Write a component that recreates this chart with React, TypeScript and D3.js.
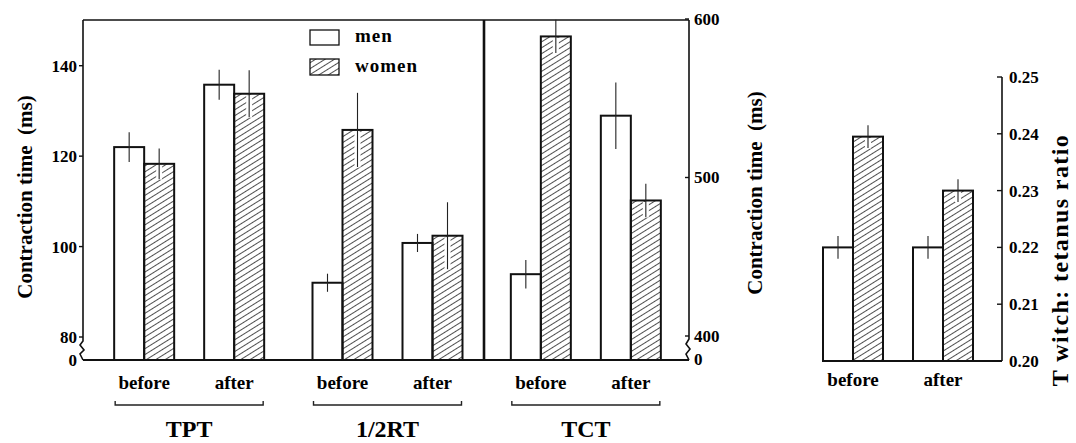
import React from "react";
import * as d3 from "d3";

// values (means, +/- half error bar)
const groups = ["TPT", "1/2RT", "TCT"];
const conditions = ["before", "after"];
const sexes = ["men", "women"];

const tptMen = [122, 135.8];
const tptMenErr = [3.3, 3.3];
const tptWomen = [118.3, 133.8];
const tptWomenErr = [3.4, 5.2];

const rtMen = [92, 100.8];
const rtMenErr = [2, 2];
const rtWomen = [125.8, 102.4];
const rtWomenErr = [8.2, 7.4];

const tctMen = [439, 539];
const tctMenErr = [9, 21];
const tctWomen = [589, 485.5];
const tctWomenErr = [10.5, 10.5];

const ratioMen = [0.22, 0.22];
const ratioMenErr = [0.002, 0.002];
const ratioWomen = [0.2395, 0.23];
const ratioWomenErr = [0.002, 0.002];

const leftTicks = [80, 100, 120, 140];
const tctTicks = [400, 500, 600];
const ratioTicks = [0.2, 0.21, 0.22, 0.23, 0.24, 0.25];

const FONT = "'Liberation Serif', 'Times New Roman', serif";

const W = 1076;
const H = 443;
const base = 360;

const App = () => {
  const yTime = d3.scaleLinear().domain([80, 150]).range([337, 20.5]);
  const yTCT = d3.scaleLinear().domain([400, 600]).range([336, 19]);
  const yRatio = d3.scaleLinear().domain([0.2, 0.25]).range([361, 77]);

  const xGroup = d3.scaleBand().domain(groups).range([90, 685]);
  const xCond = d3.scalePoint().domain(conditions).range([-45, 45]);
  const xSex = d3.scaleBand().domain(sexes).range([-30, 30]);
  const xRatio = d3.scalePoint().domain(conditions).range([853, 943]);

  const groupCenter = (g: string) => (xGroup(g) as number) + xGroup.bandwidth() / 2;

  type Bar = { cx: number; sex: string; v: number; e: number; y: d3.ScaleLinear<number, number>; b: number };
  const bars: Bar[] = [];
  const series: [string, number[], number[], number[], number[], d3.ScaleLinear<number, number>][] = [
    ["TPT", tptMen, tptMenErr, tptWomen, tptWomenErr, yTime],
    ["1/2RT", rtMen, rtMenErr, rtWomen, rtWomenErr, yTime],
    ["TCT", tctMen, tctMenErr, tctWomen, tctWomenErr, yTCT],
  ];
  series.forEach(([g, m, me, w, we, y]) => {
    conditions.forEach((c, i) => {
      const cx = groupCenter(g) + (xCond(c) as number);
      bars.push({ cx, sex: "men", v: m[i], e: me[i], y, b: base });
      bars.push({ cx, sex: "women", v: w[i], e: we[i], y, b: base });
    });
  });
  conditions.forEach((c, i) => {
    const cx = xRatio(c) as number;
    bars.push({ cx, sex: "men", v: ratioMen[i], e: ratioMenErr[i], y: yRatio, b: 361 });
    bars.push({ cx, sex: "women", v: ratioWomen[i], e: ratioWomenErr[i], y: yRatio, b: 361 });
  });

  const leftX = 83;
  const tctX = 689;
  const divX = 484;
  const ratioX = 1002;

  return (
    <svg
      width={W}
      height={H}
      style={{ position: "absolute", left: 0, top: 0, background: "#fff" }}
      fontFamily={FONT}
      fontWeight="bold"
    >
      <defs>
        <pattern id="hatch" width="5" height="5" patternUnits="userSpaceOnUse" patternTransform="rotate(-32)">
          <line x1="0" y1="2.5" x2="5" y2="2.5" stroke="#222" strokeWidth="0.8" />
        </pattern>
      </defs>

      {/* frame of the left panel */}
      <line x1={leftX} y1={20} x2={tctX} y2={20} stroke="#111" strokeWidth={1.6} />
      <line x1={leftX} y1={base} x2={tctX} y2={base} stroke="#111" strokeWidth={2} />
      <line x1={divX} y1={20} x2={divX} y2={base} stroke="#111" strokeWidth={2.6} />

      {/* left axis with break */}
      <path
        d={`M${leftX},20 V${yTime(80) + 4} L${leftX - 3},${yTime(80) + 8} L${leftX + 1},${yTime(80) + 13} L${leftX - 3},${yTime(80) + 17} L${leftX},${base}`}
        fill="none"
        stroke="#111"
        strokeWidth={1.6}
      />
      {leftTicks.map((t) => (
        <g key={t}>
          <line x1={leftX - 4} x2={leftX} y1={yTime(t)} y2={yTime(t)} stroke="#111" strokeWidth={1.4} />
          <text x={leftX - 6} y={yTime(t)} dy="0.35em" textAnchor="end" fontSize={17}>
            {t}
          </text>
        </g>
      ))}
      <text x={leftX - 6} y={base} dy="0.35em" textAnchor="end" fontSize={17}>
        0
      </text>
      <text transform={`translate(32,197) rotate(-90)`} textAnchor="middle" fontSize={21} xmlSpace="preserve">
        {"Contraction time  (ms)"}
      </text>

      {/* TCT axis on the right with break */}
      <path
        d={`M${tctX},20 V${yTCT(400) + 3} L${tctX - 3},${yTCT(400) + 8} L${tctX + 1},${yTCT(400) + 13} L${tctX - 3},${yTCT(400) + 18} L${tctX},${base}`}
        fill="none"
        stroke="#111"
        strokeWidth={1.6}
      />
      {tctTicks.map((t) => (
        <g key={t}>
          <line x1={tctX - 4} x2={tctX} y1={yTCT(t)} y2={yTCT(t)} stroke="#111" strokeWidth={1.4} />
          <text x={tctX + 5} y={yTCT(t)} dy="0.35em" textAnchor="start" fontSize={17}>
            {t}
          </text>
        </g>
      ))}
      <text x={tctX + 5} y={base - 1} dy="0.35em" textAnchor="start" fontSize={17}>
        0
      </text>
      <text transform={`translate(762,193) rotate(-90)`} textAnchor="middle" fontSize={21} xmlSpace="preserve">
        {"Contraction time  (ms)"}
      </text>

      {/* ratio panel axis */}
      <line x1={822} x2={ratioX} y1={361} y2={361} stroke="#111" strokeWidth={2} />
      <line x1={ratioX} x2={ratioX} y1={yRatio(0.25)} y2={361} stroke="#111" strokeWidth={1.6} />
      {ratioTicks.map((t) => (
        <g key={t}>
          <line x1={ratioX - 5} x2={ratioX} y1={yRatio(t)} y2={yRatio(t)} stroke="#111" strokeWidth={1.4} />
          <text x={ratioX + 7} y={yRatio(t)} dy="0.35em" textAnchor="start" fontSize={17}>
            {d3.format(".2f")(t)}
          </text>
        </g>
      ))}
      <text
        transform={`translate(1068,260) rotate(-90)`}
        textAnchor="middle"
        fontSize={24}
        letterSpacing={1.4}
        xmlSpace="preserve"
      >
        {"T witch: tetanus ratio"}
      </text>

      {/* bars */}
      {bars.map((d, i) => {
        const x0 = d.cx + (xSex(d.sex) as number);
        const w = xSex.bandwidth();
        const top = d.y(d.v);
        const eTop = d.y(d.v + d.e);
        const eBot = d.y(d.v - d.e);
        const mid = x0 + w / 2;
        return (
          <g key={i}>
            <rect
              x={x0}
              y={top}
              width={w}
              height={d.b - top}
              fill={d.sex === "women" ? "url(#hatch)" : "#fff"}
              stroke="#111"
              strokeWidth={2}
            />
            {d.sex === "women" && <rect x={mid - 3} y={top + 1.5} width={6} height={eBot - top - 1} fill="#fff" />}
            <line x1={mid} x2={mid} y1={eTop} y2={eBot} stroke="#222" strokeWidth={1.1} />
          </g>
        );
      })}

      {/* legend */}
      <rect x={310} y={30} width={29} height={15} fill="#fff" stroke="#111" strokeWidth={1.3} />
      <rect x={310} y={59} width={29} height={16} fill="url(#hatch)" stroke="#111" strokeWidth={1.3} />
      <text x={355} y={42} fontSize={19} letterSpacing={1}>
        men
      </text>
      <text x={355} y={72} fontSize={19} letterSpacing={1}>
        women
      </text>

      {/* condition labels and brackets */}
      {groups.map((g) => {
        const c = groupCenter(g);
        return (
          <g key={g}>
            {conditions.map((k) => (
              <text key={k} x={c + (xCond(k) as number)} y={389} textAnchor="middle" fontSize={19}>
                {k}
              </text>
            ))}
            <path d={`M${c - 74},401 V405 H${c + 74} V401`} fill="none" stroke="#222" strokeWidth={1.4} />
            <text x={c} y={437} textAnchor="middle" fontSize={24}>
              {g}
            </text>
          </g>
        );
      })}
      {conditions.map((k) => (
        <text key={k} x={xRatio(k) as number} y={386} textAnchor="middle" fontSize={19}>
          {k}
        </text>
      ))}
    </svg>
  );
};

export default App;
